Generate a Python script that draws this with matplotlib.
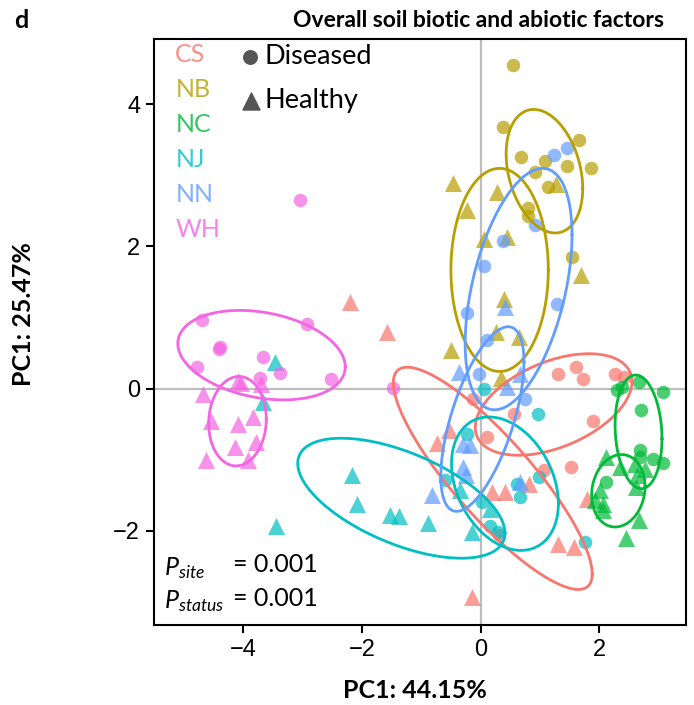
import numpy as np
import matplotlib.pyplot as plt

plt.rcParams["mathtext.fontset"] = "custom"
plt.rcParams["mathtext.it"] = "Lato:italic"
plt.rcParams["mathtext.rm"] = "Lato"

# site colours (ggplot hue palette)
sites = ["CS", "NB", "NC", "NJ", "NN", "WH"]
site_colors = ["#F8766D", "#B79F00", "#00BA38", "#00BFC4", "#619CFF", "#F564E3"]

# PCA scores, diseased samples (circles)
cs_dis_x = [1.31, 1.60, 1.72, 2.26, 2.41, 1.90, -0.12, 0.56, 0.10, 1.06, 1.52, 0.31]
cs_dis_y = [0.20, 0.30, 0.13, 0.21, 0.16, -0.46, -0.15, -0.36, -0.68, -1.15, -1.10, -2.06]
nb_dis_x = [0.54, 0.37, 1.65, 0.68, 1.09, 1.45, 1.86, 0.92, 1.14, 0.80, 0.79, 1.54]
nb_dis_y = [4.56, 3.68, 3.50, 3.26, 3.21, 3.14, 3.11, 3.05, 2.84, 2.54, 2.43, 1.85]
nc_dis_x = [2.29, 2.38, 2.66, 3.07, 2.71, 2.69, 2.69, 2.91, 3.07, 2.12]
nc_dis_y = [-0.02, 0.02, 0.09, -0.05, -0.30, -0.86, -0.96, -0.99, -1.05, -1.32]
nj_dis_x = [0.05, 0.97, -0.23, -0.60, 0.02, 0.61, 0.66, 0.99, 0.16, 0.30, 1.76]
nj_dis_y = [0.00, -0.36, -0.64, -1.29, -1.60, -1.34, -1.53, -1.25, -1.93, -2.02, -2.16]
nn_dis_x = [1.23, 1.45, 0.92, 0.38, 0.05, -0.23, 1.29, 0.10, -0.02, 0.75]
nn_dis_y = [3.29, 3.38, 2.30, 2.08, 1.72, 1.06, 1.19, 0.68, 0.20, -0.15]
wh_dis_x = [-3.04, -4.69, -2.92, -4.39, -4.41, -4.78, -3.67, -3.38, -3.71, -2.52, -1.47]
wh_dis_y = [2.65, 0.97, 0.91, 0.59, 0.55, 0.30, 0.45, 0.22, 0.15, 0.14, 0.01]

# PCA scores, healthy samples (triangles)
cs_hea_x = [-2.20, -1.57, -0.53, -0.73, 0.19, 0.41, 0.81, 1.79, 1.31, 1.58, -0.15]
cs_hea_y = [1.22, 0.80, -0.58, -0.77, -1.46, -1.46, -1.34, -1.56, -2.19, -2.23, -2.93]
nb_hea_x = [-0.46, 0.28, -0.23, 0.05, 0.45, 1.27, 1.69, 0.40, 0.26, 0.65, -0.50, 0.34]
nb_hea_y = [2.89, 2.77, 2.51, 2.11, 2.13, 2.88, 1.60, 1.26, 0.80, 0.73, 0.54, 0.15]
nc_hea_x = [2.12, 2.35, 2.60, 2.77, 2.63, 2.62, 2.01, 1.93, 2.06, 2.07, 2.66, 2.45]
nc_hea_y = [-0.96, -1.10, -1.06, -1.13, -1.22, -1.39, -1.43, -1.57, -1.62, -1.71, -1.85, -2.11]
nj_hea_x = [-3.46, -3.66, -2.17, -2.08, -1.52, -1.38, -3.44, -0.35, -0.88, 0.16, -0.15]
nj_hea_y = [0.37, -0.19, -1.22, -1.63, -1.78, -1.80, -1.94, -1.43, -1.90, -1.69, -2.02]
nn_hea_x = [0.41, -0.37, 0.66, 0.44, -0.29, -0.18, -0.29, -0.24, -0.82, 0.66]
nn_hea_y = [1.15, 0.23, 0.21, 0.02, -0.78, -0.80, -1.10, -1.22, -1.50, -1.32]
wh_hea_x = [-4.08, -4.04, -3.70, -4.68, -4.54, -4.09, -3.83, -4.13, -3.78, -4.62, -3.91]
wh_hea_y = [0.11, 0.08, 0.06, -0.08, -0.46, -0.50, -0.40, -0.82, -0.75, -1.01, -1.01]

dis_x = [cs_dis_x, nb_dis_x, nc_dis_x, nj_dis_x, nn_dis_x, wh_dis_x]
dis_y = [cs_dis_y, nb_dis_y, nc_dis_y, nj_dis_y, nn_dis_y, wh_dis_y]
hea_x = [cs_hea_x, nb_hea_x, nc_hea_x, nj_hea_x, nn_hea_x, wh_hea_x]
hea_y = [cs_hea_y, nb_hea_y, nc_hea_y, nj_hea_y, nn_hea_y, wh_hea_y]

# confidence ellipses: centre, half extent in x / y, correlation
ell_dis_cx = [1.23, 1.075, 2.66, 0.41, 0.64, -3.69]
ell_dis_cy = [-0.225, 3.06, -0.61, -1.34, 1.40, 0.47]
ell_dis_sx = [1.32, 0.645, 0.395, 0.90, 0.90, 1.41]
ell_dis_sy = [0.715, 0.87, 0.80, 0.94, 1.70, 0.63]
ell_dis_r = [0.45, -0.28, -0.12, -0.30, 0.45, -0.26]

ell_hea_cx = [0.205, 0.32, 2.32, -1.335, 0.03, -4.095]
ell_hea_cy = [-1.265, 1.67, -1.44, -1.545, -0.43, -0.46]
ell_hea_sx = [1.675, 0.82, 0.45, 1.745, 0.70, 0.485]
ell_hea_sy = [1.565, 1.43, 0.51, 0.845, 1.30, 0.63]
ell_hea_r = [-0.86, 0.0, 0.12, -0.58, 0.62, 0.05]


def ellipse(cx, cy, sx, sy, r, n=300):
    t = np.linspace(0, 2 * np.pi, n)
    x = cx + sx * np.cos(t)
    y = cy + sy * (r * np.cos(t) + np.sqrt(1 - r ** 2) * np.sin(t))
    return x, y


fig = plt.figure(figsize=(6.94, 7.05), dpi=100)
ax = fig.add_axes([0.222, 0.1135, 0.7665, 0.831])

ax.axhline(0, color="#BEBEBE", lw=1.6, zorder=0)
ax.axvline(0, color="#BEBEBE", lw=1.6, zorder=0)

for i in range(len(sites)):
    ax.scatter(dis_x[i], dis_y[i], s=95, marker="o", color=site_colors[i],
               alpha=0.7, linewidths=0, zorder=2)
    ax.scatter(hea_x[i], hea_y[i], s=150, marker="^", color=site_colors[i],
               alpha=0.7, linewidths=0, zorder=2)

for i in range(len(sites)):
    ex, ey = ellipse(ell_dis_cx[i], ell_dis_cy[i], ell_dis_sx[i], ell_dis_sy[i], ell_dis_r[i])
    ax.plot(ex, ey, color=site_colors[i], lw=2.0, zorder=3)
    ex, ey = ellipse(ell_hea_cx[i], ell_hea_cy[i], ell_hea_sx[i], ell_hea_sy[i], ell_hea_r[i])
    ax.plot(ex, ey, color=site_colors[i], lw=2.0, zorder=3)

ax.set_xlim(-5.5, 3.46)
ax.set_ylim(-3.33, 4.92)
ax.set_xticks([-4, -2, 0, 2])
ax.set_yticks([-2, 0, 2, 4])
ax.set_xticklabels(["\u22124", "\u22122", "0", "2"])
ax.set_yticklabels(["\u22122", "0", "2", "4"])
ax.tick_params(length=6, width=1.5, labelsize=17, pad=4)
for lab in ax.get_xticklabels() + ax.get_yticklabels():
    lab.set_family("Liberation Sans")
for sp in ax.spines.values():
    sp.set_linewidth(1.5)

lab_font = dict(family="Lato", fontweight="bold", fontsize=18)
ax.set_xlabel("PC1: 44.15%", **lab_font)
ax.set_ylabel("PC1: 25.47%", **lab_font)
ax.xaxis.set_label_coords(0.49, -0.111)
ax.yaxis.set_label_coords(-0.245, 0.53)
ax.xaxis.label.set_va("center")
ax.yaxis.label.set_va("center")

fig.text(0.69, 0.971, "Overall soil biotic and abiotic factors", ha="center",
         va="center", family="Lato", fontweight="bold", fontsize=16.5)
fig.text(0.03, 0.971, "d", ha="center", va="center", family="Lato",
         fontweight="bold", fontsize=18)

# site legend
for i, s in enumerate(sites):
    ax.text(0.04, 0.973 - i * 0.0597, s, transform=ax.transAxes, ha="left",
            va="center", color=site_colors[i], alpha=0.8, family="Lato", fontsize=18)

# status legend
ax.scatter([0.181], [0.969], s=95, marker="o", color="#555555",
           transform=ax.transAxes, clip_on=False)
ax.scatter([0.183], [0.895], s=150, marker="^", color="#555555",
           transform=ax.transAxes, clip_on=False)
ax.text(0.208, 0.971, "Diseased", transform=ax.transAxes, ha="left", va="center",
        family="Lato", fontsize=19.5)
ax.text(0.208, 0.895, "Healthy", transform=ax.transAxes, ha="left", va="center",
        family="Lato", fontsize=19.5)

ax.text(0.018, 0.098, r"$P_{site}$", transform=ax.transAxes, ha="left",
        va="center", fontsize=18)
ax.text(0.148, 0.103, "= 0.001", transform=ax.transAxes, ha="left",
        va="center", family="Lato", fontsize=18)
ax.text(0.018, 0.041, r"$P_{status}$", transform=ax.transAxes, ha="left",
        va="center", fontsize=18)
ax.text(0.148, 0.046, "= 0.001", transform=ax.transAxes, ha="left",
        va="center", family="Lato", fontsize=18)

fig.savefig("out.png", dpi=100)
